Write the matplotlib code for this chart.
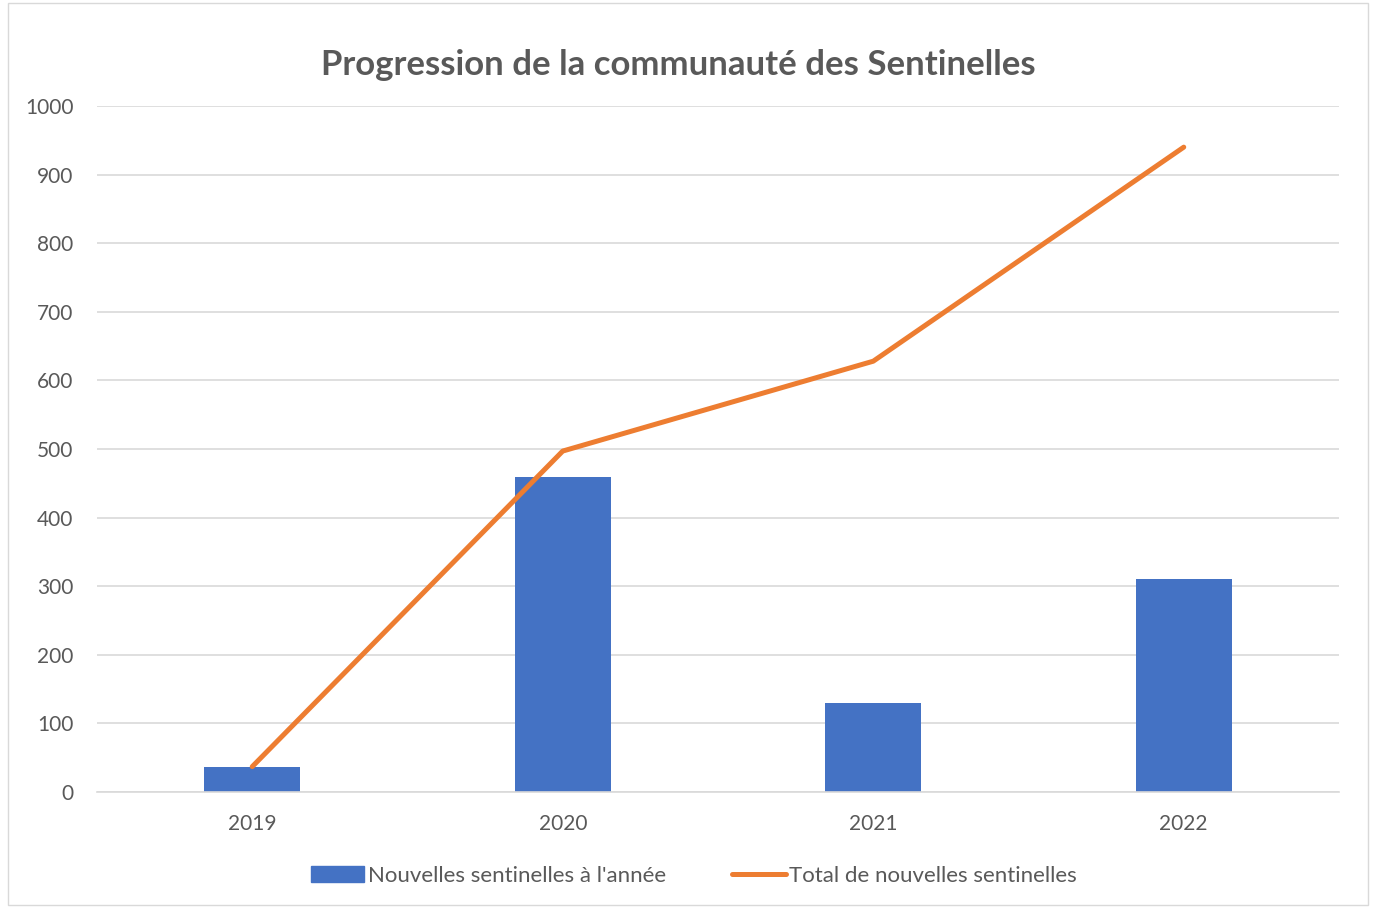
import matplotlib.pyplot as plt
from matplotlib.patches import Rectangle
from matplotlib.lines import Line2D

years = ["2019", "2020", "2021", "2022"]
nouvelles = [37, 459, 130, 310]
total = [37, 497, 628, 940]
yticks = [0, 100, 200, 300, 400, 500, 600, 700, 800, 900, 1000]

plt.rcParams['font.family'] = ['Lato', 'DejaVu Sans']
grey = "#595959"

fig = plt.figure(figsize=(13.74, 9.08), dpi=100)
ax = fig.add_axes([97 / 1374, 1 - 792 / 908, 1242 / 1374, 686 / 908])

x = range(len(years))
ax.bar(x, nouvelles, width=0.31, color="#4472C4", zorder=2)
ax.plot(x, total, color="#ED7D31", lw=3.6, solid_capstyle="round", zorder=3)

ax.set_xlim(-0.5, 3.5)
ax.set_ylim(0, 1000)
ax.set_yticks(yticks)
ax.set_xticks(list(x))
ax.set_xticklabels(years)
ax.tick_params(axis="both", length=0, labelsize=15, colors=grey)
ax.tick_params(axis="x", pad=16)
ax.tick_params(axis="y", pad=17)
ax.grid(axis="y", color="#D9D9D9", lw=1.2, zorder=0)
for s in ["top", "right", "left"]:
    ax.spines[s].set_visible(False)
ax.spines["bottom"].set_color("#D9D9D9")
ax.spines["bottom"].set_linewidth(1.2)

fig.text(678 / 1374, 1 - 65 / 908, "Progression de la communauté des Sentinelles",
         ha="center", va="center", fontsize=25, fontweight="bold", color=grey)

# chart border
fig.patches.append(Rectangle((8 / 1374, 3 / 908), 1360 / 1374, 902 / 908,
                             transform=fig.transFigure, fill=False,
                             edgecolor="#D9D9D9", lw=1))

handles = [Rectangle((0, 0), 1, 1, color="#4472C4"),
           Line2D([0], [0], color="#ED7D31", lw=3.6, solid_capstyle="round")]
labels = ["Nouvelles sentinelles à l'année", "Total de nouvelles sentinelles"]
fig.legend(handles, labels, loc="center", bbox_to_anchor=(0.505, 1 - 876 / 908),
           ncol=2, frameon=False, fontsize=16, labelcolor=grey,
           handlelength=2.4, handletextpad=0.15, columnspacing=3.0)

fig.savefig("out.png", dpi=100)
